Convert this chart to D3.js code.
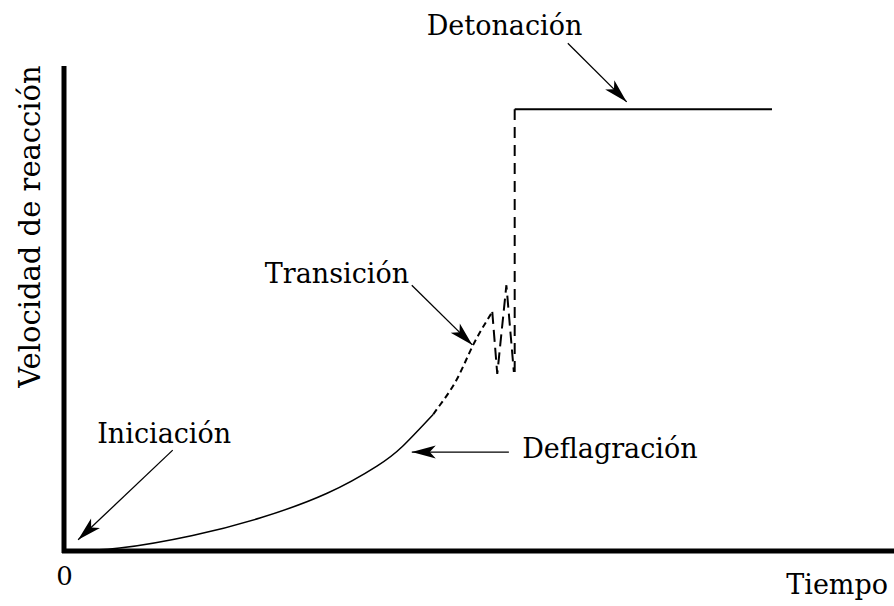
<!DOCTYPE html>
<html>
<head>
<meta charset="utf-8">
<script src="https://cdn.jsdelivr.net/npm/d3@7"></script>
<style>
  body { margin: 0; background: #fff; }
  text { font-family: "DejaVu Serif", serif; fill: #000; }
</style>
</head>
<body>
<div id="chart"></div>
<script>
/////////////////////////////////////////////////////////////////////// Set-Up //////////////////////////////////////////////////////////
const width = 894,
    height = 606,
    margin = {left: 64, top: 66, right: 0, bottom: 55},
    fontSize = 27;

// curve: tiempo (0-100) vs velocidad de reaccion (0-100)
const deflagTime  = [0, 6.7, 15.5, 23.6, 31.7, 37.7, 40.8, 44.5],
      deflagSpeed = [0, 0.6, 3.2, 6.8, 11.9, 17.5, 21.6, 28.2];

const transTime  = [44.5, 45.3, 47.3, 49.3, 51.6, 52.2, 53.3, 54.2],
      transSpeed = [28.2, 30.1, 35.3, 42.5, 49.3, 36.5, 54.8, 36.9];

const detonTime  = [54.3, 54.3, 85.3],
      detonSpeed = [36.9, 91.1, 91.1];

const labels   = ["Detonación", "Transición", "Deflagración", "Iniciación"],
      labelPos = [[43.7, 106.4], [24.2, 55.3], [55.2, 19.2], [4.0, 22.3]],
      arrowFrom = [[60.7, 104.7], [41.9, 54.8], [53.6, 20.4], [13.1, 20.8]],
      arrowTo   = [[67.8, 92.6], [49.2, 42.5], [41.9, 20.4], [1.7, 2.3]];

const xTicks = [0];

////////////////////////////////////////////////// Create scales ///////////////////////////////////////////////////
const x = d3.scaleLinear()
    .domain([0, 100])
    .range([margin.left, width - margin.right]);

const y = d3.scaleLinear()
    .domain([0, 100])
    .range([height - margin.bottom, margin.top]);

const line = d3.line()
    .x(d => x(d[0]))
    .y(d => y(d[1]));

const smooth = d3.line()
    .x(d => x(d[0]))
    .y(d => y(d[1]))
    .curve(d3.curveNatural);

////////////////////////////////////////////////////////////////// Create SVG /////////////////////////////////////////////////////////
const svg = d3.select("#chart")
  .append("svg")
    .attr("width", width)
    .attr("height", height);

/////////////////////////////////////////////////////////////// Axes ///////////////////////////////////////////////////////
const xAxis = svg.append("g")
    .attr("transform", "translate(0," + y(0) + ")")
    .call(d3.axisBottom(x).tickValues(xTicks).tickSize(0).tickSizeOuter(0).tickPadding(16).tickFormat(d3.format("d")));

xAxis.select(".domain")
    .attr("stroke", "#000")
    .attr("stroke-width", 5)
    .attr("d", "M" + (x(0) - 2) + ",0H" + width);

xAxis.selectAll(".tick text")
    .style("font-family", "'DejaVu Serif', serif")
    .style("font-size", "26px")
    .attr("dy", "0.7em");

const yAxis = svg.append("g")
    .attr("transform", "translate(" + x(0) + ",0)")
    .call(d3.axisLeft(y).tickValues([]).tickSizeOuter(0));

yAxis.select(".domain")
    .attr("stroke", "#000")
    .attr("stroke-width", 5)
    .attr("d", "M0," + (y(0) + 2) + "V" + y(100));

svg.append("text")
    .attr("x", width - 6)
    .attr("y", 594)
    .attr("text-anchor", "end")
    .style("font-size", fontSize + "px")
    .text("Tiempo");

svg.append("text")
    .attr("transform", "translate(40," + ((y(0) + y(100)) / 2 - 82) + ") rotate(-90)")
    .attr("text-anchor", "middle")
    .style("font-size", "29px")
    .text("Velocidad de reacción");

/////////////////////////////////////////////////////////////// Curve ///////////////////////////////////////////////////////
svg.append("path")
    .datum(d3.zip(deflagTime, deflagSpeed))
    .attr("fill", "none")
    .attr("stroke", "#000")
    .attr("stroke-width", 1.5)
    .attr("d", smooth);

svg.append("path")
    .datum(d3.zip(transTime.slice(0, 5), transSpeed.slice(0, 5)))
    .attr("fill", "none")
    .attr("stroke", "#000")
    .attr("stroke-width", 2)
    .attr("stroke-dasharray", "6,4")
    .attr("d", smooth);

// zigzag
svg.append("path")
    .datum(d3.zip(transTime.slice(4), transSpeed.slice(4)))
    .attr("fill", "none")
    .attr("stroke", "#000")
    .attr("stroke-width", 2)
    .attr("stroke-dasharray", "12,6")
    .attr("d", line);

svg.append("path")
    .datum(d3.zip(detonTime.slice(0, 2), detonSpeed.slice(0, 2)))
    .attr("fill", "none")
    .attr("stroke", "#000")
    .attr("stroke-width", 2)
    .attr("stroke-dasharray", "11,7")
    .attr("d", line);

svg.append("path")
    .datum(d3.zip(detonTime.slice(1), detonSpeed.slice(1)))
    .attr("fill", "none")
    .attr("stroke", "#000")
    .attr("stroke-width", 2)
    .attr("d", line);

/////////////////////////////////////////////////////////////// Annotations ///////////////////////////////////////////////////////
svg.selectAll("text.label")
  .data(labels)
  .enter().append("text")
    .attr("class", "label")
    .attr("x", (d, i) => x(labelPos[i][0]))
    .attr("y", (d, i) => y(labelPos[i][1]))
    .style("font-size", fontSize + "px")
    .text(d => d);

const arrows = svg.selectAll("g.arrow")
  .data(labels)
  .enter().append("g")
    .attr("class", "arrow");

arrows.append("line")
    .attr("x1", (d, i) => x(arrowFrom[i][0]))
    .attr("y1", (d, i) => y(arrowFrom[i][1]))
    .attr("x2", (d, i) => x(arrowTo[i][0]))
    .attr("y2", (d, i) => y(arrowTo[i][1]))
    .attr("stroke", "#000")
    .attr("stroke-width", 1.3);

// narrow filled heads
arrows.append("path")
    .attr("fill", "#000")
    .attr("d", "M0,0L-24,-6.5L-18,0L-24,6.5Z")
    .attr("transform", function(d, i) {
      const x1 = x(arrowFrom[i][0]), y1 = y(arrowFrom[i][1]),
            x2 = x(arrowTo[i][0]), y2 = y(arrowTo[i][1]);
      const a = Math.atan2(y2 - y1, x2 - x1) * 180 / Math.PI;
      return "translate(" + x2 + "," + y2 + ") rotate(" + a + ")";
    });
</script>
</body>
</html>
